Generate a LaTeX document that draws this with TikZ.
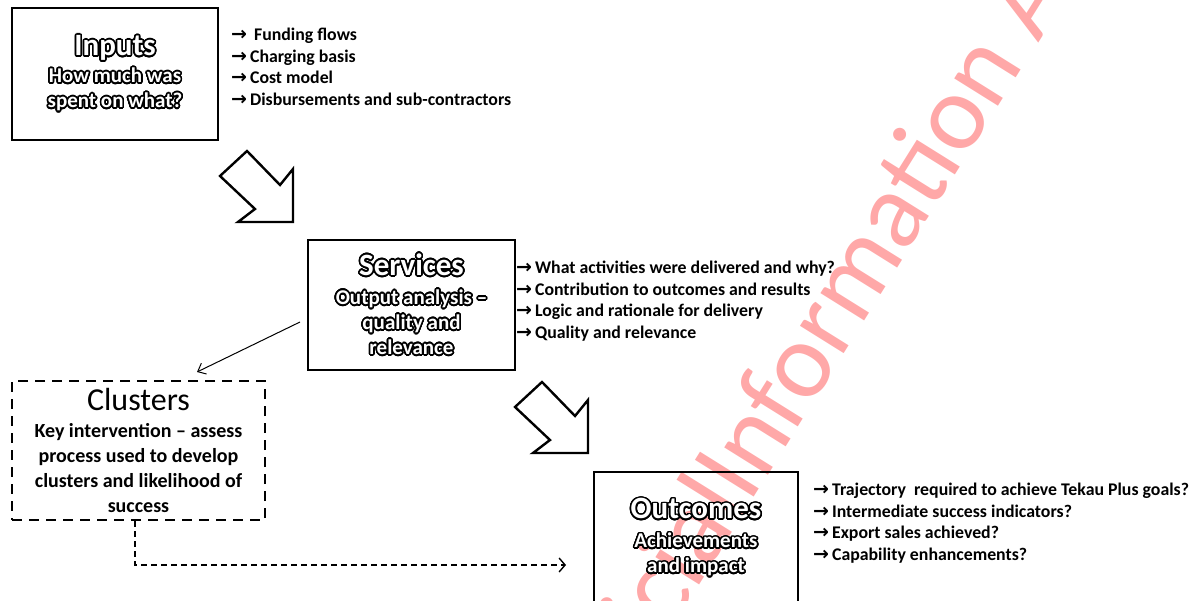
\documentclass[tikz,border=0pt]{standalone}
\usepackage{fontspec}
\setmainfont{Carlito}
\newfontfamily\arrfont{DejaVu Sans}
\usepackage[copies]{contour}
\contourlength{1.6pt}
\contournumber{28}
\usetikzlibrary{arrows.meta}
\definecolor{inkblack}{HTML}{000000}
\definecolor{stampred}{HTML}{FFA8A8}

\newcommand{\hollow}[1]{\contour{inkblack}{\textcolor{white}{#1}}}
\newcommand{\arr}{{\arrfont\bfseries\fontsize{19}{19}\selectfont →}\,}

\begin{document}
\begin{tikzpicture}[x=1pt, y=-1pt,
    stagebox/.style={draw=inkblack, line width=2.6pt, align=center, inner sep=0pt,
        font=\fontsize{21}{25}\selectfont\bfseries},
    clusterbox/.style={stagebox, dash pattern=on 10pt off 7pt, font=\fontsize{20}{25}\selectfont\bfseries},
    listtext/.style={anchor=north west, align=left, inner sep=0pt,
        font=\fontsize{17.8}{21.5}\selectfont\bfseries},
    blockarrow/.style={draw=inkblack, line width=2.4pt, fill=white, line join=miter},
    thinarrow/.style={draw=inkblack, line width=1pt, -{Straight Barb[length=7pt,width=12pt]}},
    dashlink/.style={draw=inkblack, line width=1.4pt, dash pattern=on 6pt off 4pt,
        -{Straight Barb[length=6pt,width=14pt,line width=1.4pt]}},
    stamp/.style={text=stampred, rotate=58, inner sep=0pt, font=\fontsize{108}{112}\selectfont}
]
\useasboundingbox (0,0) rectangle (1196,601);

% watermark behind the drawing
\begin{scope}
\clip (0,0) rectangle (1196,601);
\node[stamp] (wmInfo) at (856,265) {Information};
\node[stamp, anchor=base east] (wmOff) at (wmInfo.base west) {Official\ };
\node[stamp, anchor=base west] (wmAct) at (wmInfo.base east) {\ Act};
\end{scope}

% stage boxes
\node[stagebox, minimum width=206, minimum height=132] (inputs) at (115,74)
    {{\fontsize{31}{32}\selectfont\hollow{Inputs}}\\[2pt] \hollow{How much was}\\ \hollow{spent on what?}};
\node[stagebox, minimum width=207, minimum height=130] (services) at (411.5,305)
    {{\fontsize{31}{32}\selectfont\hollow{Services}}\\[4pt] \hollow{Output analysis --}\\ \hollow{quality and}\\ \hollow{relevance}};
\node[clusterbox, minimum width=253, minimum height=139] (clusters) at (138.5,450.5)
    {{\fontsize{32}{32}\selectfont\mdseries Clusters}\\[2pt] Key intervention -- assess\\ process used to develop\\ clusters and likelihood of\\ success};
\node[stagebox, minimum width=204, minimum height=132] (outcomes) at (696,538)
    {{\fontsize{31}{32}\selectfont\hollow{Outcomes}}\\[4pt] \hollow{Achievements}\\ \hollow{and impact}};

% lists
\node[listtext] (inputsList) at (231,28)
    {\arr\ Funding flows\\ \arr Charging basis\\ \arr Cost model\\ \arr Disbursements and sub-contractors};
\node[listtext] (servicesList) at (516,261)
    {\arr What activities were delivered and why?\\ \arr Contribution to outcomes and results\\
     \arr Logic and rationale for delivery\\ \arr Quality and relevance};
\node[listtext] (outcomesList) at (813,483)
    {\arr Trajectory\ \ required to achieve Tekau Plus goals?\\ \arr Intermediate success indicators?\\
     \arr Export sales achieved?\\ \arr Capability enhancements?};

% block arrows between stages
\foreach \tipx/\tipy in {293/222, 588/453}
    \draw[blockarrow, shift={(\tipx,\tipy)}] (-46,-71) -- (-73,-46) -- (-38,-13) -- (-55,0)
        -- (0,0) -- (0,-53) -- (-13,-37) -- cycle;

% connectors
\coordinate (svcTail) at (300,322);
\coordinate (clsTip) at (197,372);
\draw[thinarrow] (svcTail) -- (clsTip);
\coordinate (clsFoot) at (135,521);
\coordinate (outIn) at (566,565);
\draw[dashlink] (clsFoot) |- (outIn);
\end{tikzpicture}
\end{document}
